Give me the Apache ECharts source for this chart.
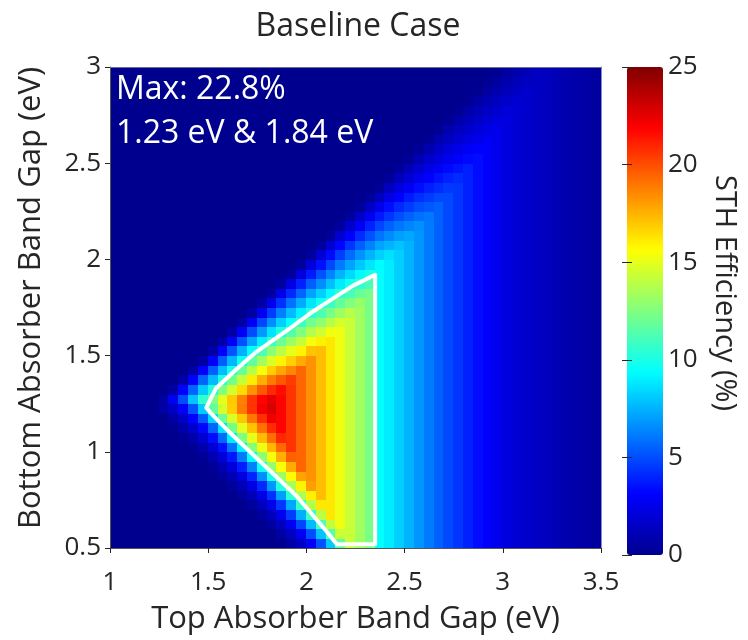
<!DOCTYPE html>
<html>
<head>
<meta charset="utf-8">
<title>Baseline Case</title>
<script src="https://cdn.jsdelivr.net/npm/echarts@6/dist/echarts.min.js"></script>
<style>
  html, body { margin: 0; padding: 0; background: #ffffff; }
  #chart { width: 748px; height: 640px; }
</style>
</head>
<body>
<div id="chart"></div>
<script>
// Top absorber band gap (eV): centre of each grid column
const topGap = [1.025,1.075,1.125,1.175,1.225,1.275,1.325,1.375,1.425,1.475,
  1.525,1.575,1.625,1.675,1.725,1.775,1.825,1.875,1.925,1.975,
  2.025,2.075,2.125,2.175,2.225,2.275,2.325,2.375,2.425,2.475,
  2.525,2.575,2.625,2.675,2.725,2.775,2.825,2.875,2.925,2.975,
  3.025,3.075,3.125,3.175,3.225,3.275,3.325,3.375,3.425,3.475];

// Bottom absorber band gap (eV): centre of each grid row
const bottomGap = [0.525,0.575,0.625,0.675,0.725,0.775,0.825,0.875,0.925,0.975,
  1.025,1.075,1.125,1.175,1.225,1.275,1.325,1.375,1.425,1.475,
  1.525,1.575,1.625,1.675,1.725,1.775,1.825,1.875,1.925,1.975,
  2.025,2.075,2.125,2.175,2.225,2.275,2.325,2.375,2.425,2.475,
  2.525,2.575,2.625,2.675,2.725,2.775,2.825,2.875,2.925,2.975];

// STH efficiency (%), one row per bottom gap (lowest first), one value per top gap
const efficiency = [
[0,0,0,0,0,0,0,0,0,0,0,0,0,0,0,0,0,0,0.6,1.5,2.9,5.1,8.1,11.7,14.3,13.3,12.3,9.4,8.9,8.2,7.5,6.8,6.1,5.5,4.9,4.4,3.9,3.4,3.0,2.6,2.2,1.95,1.7,1.5,1.3,1.1,0.9,0.75,0.6,0.45],
[0,0,0,0,0,0,0,0,0,0,0,0,0,0,0,0,0,0.55,1.4,2.8,5.0,7.9,11.4,14.3,14.3,13.3,12.3,9.4,8.9,8.2,7.5,6.8,6.1,5.5,4.9,4.4,3.9,3.4,3.0,2.6,2.2,1.95,1.7,1.5,1.3,1.1,0.9,0.75,0.6,0.45],
[0,0,0,0,0,0,0,0,0,0,0,0,0,0,0,0,0.5,1.3,2.7,4.8,7.7,11.2,14.1,15.2,14.3,13.3,12.3,9.4,8.9,8.2,7.5,6.8,6.1,5.5,4.9,4.4,3.9,3.4,3.0,2.6,2.2,1.95,1.7,1.5,1.3,1.1,0.9,0.75,0.6,0.45],
[0,0,0,0,0,0,0,0,0,0,0,0,0,0,0,0.45,1.25,2.6,4.6,7.4,10.9,13.9,16.2,15.2,14.3,13.3,12.3,9.4,8.9,8.2,7.5,6.8,6.1,5.5,4.9,4.4,3.9,3.4,3.0,2.6,2.2,1.95,1.7,1.5,1.3,1.1,0.9,0.75,0.6,0.45],
[0,0,0,0,0,0,0,0,0,0,0,0,0,0,0.4,1.2,2.5,4.5,7.2,10.7,13.8,16.2,16.2,15.2,14.3,13.3,12.3,9.4,8.9,8.2,7.5,6.8,6.1,5.5,4.9,4.4,3.9,3.4,3.0,2.6,2.2,1.95,1.7,1.5,1.3,1.1,0.9,0.75,0.6,0.45],
[0,0,0,0,0,0,0,0,0,0,0,0,0,0.35,1.1,2.4,4.3,7.0,10.4,13.6,16.0,17.2,16.2,15.2,14.3,13.3,12.3,9.4,8.9,8.2,7.5,6.8,6.1,5.5,4.9,4.4,3.9,3.4,3.0,2.6,2.2,1.95,1.7,1.5,1.3,1.1,0.9,0.75,0.6,0.45],
[0,0,0,0,0,0,0,0,0,0,0,0,0.3,1.05,2.3,4.1,6.8,10.2,13.4,15.9,18.0,17.2,16.2,15.2,14.3,13.3,12.3,9.4,8.9,8.2,7.5,6.8,6.1,5.5,4.9,4.4,3.9,3.4,3.0,2.6,2.2,1.95,1.7,1.5,1.3,1.1,0.9,0.75,0.6,0.45],
[0,0,0,0,0,0,0,0,0,0,0,0.3,1.0,2.2,4.0,6.6,9.9,13.2,15.7,17.9,18.3,17.2,16.2,15.2,14.3,13.3,12.3,9.4,8.9,8.2,7.5,6.8,6.1,5.5,4.9,4.4,3.9,3.4,3.0,2.6,2.2,1.95,1.7,1.5,1.3,1.1,0.9,0.75,0.6,0.45],
[0,0,0,0,0,0,0,0,0,0,0.25,0.95,2.05,3.8,6.3,9.65,13.0,15.6,17.7,19.4,18.3,17.2,16.2,15.2,14.3,13.3,12.3,9.4,8.9,8.2,7.5,6.8,6.1,5.5,4.9,4.4,3.9,3.4,3.0,2.6,2.2,1.95,1.7,1.5,1.3,1.1,0.9,0.75,0.6,0.45],
[0,0,0,0,0,0,0,0,0,0.2,0.9,2.0,3.65,6.1,9.4,12.8,15.4,17.6,19.5,19.4,18.3,17.2,16.2,15.2,14.3,13.3,12.3,9.4,8.9,8.2,7.5,6.8,6.1,5.5,4.9,4.4,3.9,3.4,3.0,2.6,2.2,1.95,1.7,1.5,1.3,1.1,0.9,0.75,0.6,0.45],
[0,0,0,0,0,0,0,0,0.15,0.8,1.85,3.5,5.9,9.05,12.6,15.2,17.4,19.3,20.6,19.4,18.3,17.2,16.2,15.2,14.3,13.3,12.3,9.4,8.9,8.2,7.5,6.8,6.1,5.5,4.9,4.4,3.9,3.4,3.0,2.6,2.2,1.95,1.7,1.5,1.3,1.1,0.9,0.75,0.6,0.45],
[0,0,0,0,0,0,0,0.1,0.75,1.8,3.4,5.7,8.9,12.4,15.0,17.3,19.2,20.9,20.6,19.4,18.3,17.2,16.2,15.2,14.3,13.3,12.3,9.4,8.9,8.2,7.5,6.8,6.1,5.5,4.9,4.4,3.9,3.4,3.0,2.6,2.2,1.95,1.7,1.5,1.3,1.1,0.9,0.75,0.6,0.45],
[0,0,0,0,0,0,0.05,0.7,1.7,3.25,5.55,8.65,12.2,14.9,17.1,19.1,20.8,21.8,20.6,19.4,18.3,17.2,16.2,15.2,14.3,13.3,12.3,9.4,8.9,8.2,7.5,6.8,6.1,5.5,4.9,4.4,3.9,3.4,3.0,2.6,2.2,1.95,1.7,1.5,1.3,1.1,0.9,0.75,0.6,0.45],
[0,0,0,0,0,0,0.65,1.55,3.1,5.35,8.4,12.0,14.7,17.0,19.0,20.7,22.2,21.8,20.6,19.4,18.3,17.2,16.2,15.2,14.3,13.3,12.3,9.4,8.9,8.2,7.5,6.8,6.1,5.5,4.9,4.4,3.9,3.4,3.0,2.6,2.2,1.95,1.7,1.5,1.3,1.1,0.9,0.75,0.6,0.45],
[0,0,0,0,0,0.6,1.5,3.0,5.15,8.15,11.75,14.55,16.85,18.9,20.6,22.1,22.8,21.8,20.6,19.4,18.3,17.2,16.2,15.2,14.3,13.3,12.3,9.4,8.9,8.2,7.5,6.8,6.1,5.5,4.9,4.4,3.9,3.4,3.0,2.6,2.2,1.95,1.7,1.5,1.3,1.1,0.9,0.75,0.6,0.45],
[0,0,0,0,0,0.6,2.85,5.0,7.9,10.6,12.5,14.9,16.9,18.75,20.6,21.8,22.6,21.8,20.6,19.4,18.3,17.2,16.2,15.2,14.3,13.3,12.3,9.4,8.9,8.2,7.5,6.8,6.1,5.5,4.9,4.4,3.9,3.4,3.0,2.6,2.2,1.95,1.7,1.5,1.3,1.1,0.9,0.75,0.6,0.45],
[0,0,0,0,0,0,0.6,3.1,5.6,8.1,10.1,12.5,14.5,16.5,18.3,19.7,20.9,21.6,20.6,19.4,18.3,17.2,16.2,15.2,14.3,13.3,12.3,9.4,8.9,8.2,7.5,6.8,6.1,5.5,4.9,4.4,3.9,3.4,3.0,2.6,2.2,1.95,1.7,1.5,1.3,1.1,0.9,0.75,0.6,0.45],
[0,0,0,0,0,0,0,0.6,3.1,5.6,7.7,10.1,12.2,14.2,16.1,17.6,18.9,19.7,20.4,19.4,18.3,17.2,16.2,15.2,14.3,13.3,12.3,9.4,8.9,8.2,7.5,6.8,6.1,5.5,4.9,4.4,3.9,3.4,3.0,2.6,2.2,1.95,1.7,1.5,1.3,1.1,0.9,0.75,0.6,0.45],
[0,0,0,0,0,0,0,0,0.6,3.1,5.4,7.7,9.9,11.9,13.9,15.4,16.8,17.8,18.6,19.4,18.3,17.2,16.2,15.2,14.3,13.3,12.3,9.4,8.9,8.2,7.5,6.8,6.1,5.5,4.9,4.4,3.9,3.4,3.0,2.6,2.2,1.95,1.7,1.5,1.3,1.1,0.9,0.75,0.6,0.45],
[0,0,0,0,0,0,0,0,0,0.6,3.0,5.4,7.6,9.7,11.7,13.3,14.8,15.9,16.8,17.7,18.3,17.2,16.2,15.2,14.3,13.3,12.3,9.4,8.9,8.2,7.5,6.8,6.1,5.5,4.9,4.4,3.9,3.4,3.0,2.6,2.2,1.95,1.7,1.5,1.3,1.1,0.9,0.75,0.6,0.45],
[0,0,0,0,0,0,0,0,0,0,0.6,3.0,5.2,7.4,9.4,11.2,12.8,13.9,15.0,15.9,17.1,17.2,16.2,15.2,14.3,13.3,12.3,9.4,8.9,8.2,7.5,6.8,6.1,5.5,4.9,4.4,3.9,3.4,3.0,2.6,2.2,1.95,1.7,1.5,1.3,1.1,0.9,0.75,0.6,0.45],
[0,0,0,0,0,0,0,0,0,0,0,0.6,2.9,5.1,7.2,9.0,10.7,12.0,13.2,14.2,15.4,16.0,16.2,15.2,14.3,13.3,12.3,9.4,8.9,8.2,7.5,6.8,6.1,5.5,4.9,4.4,3.9,3.4,3.0,2.6,2.2,1.95,1.7,1.5,1.3,1.1,0.9,0.75,0.6,0.45],
[0,0,0,0,0,0,0,0,0,0,0,0,0.6,2.8,5.0,6.9,8.7,10.1,11.4,12.5,13.75,14.45,15.3,15.2,14.3,13.3,12.3,9.4,8.9,8.2,7.5,6.8,6.1,5.5,4.9,4.4,3.9,3.4,3.0,2.6,2.2,1.95,1.7,1.5,1.3,1.1,0.9,0.75,0.6,0.45],
[0,0,0,0,0,0,0,0,0,0,0,0,0,0.55,2.8,4.8,6.6,8.2,9.5,10.8,12.1,12.9,13.8,14.6,14.3,13.3,12.3,9.4,8.9,8.2,7.5,6.8,6.1,5.5,4.9,4.4,3.9,3.4,3.0,2.6,2.2,1.95,1.7,1.5,1.3,1.1,0.9,0.75,0.6,0.45],
[0,0,0,0,0,0,0,0,0,0,0,0,0,0,0.55,2.7,4.6,6.25,7.7,9.05,10.4,11.3,12.3,13.2,13.85,13.3,12.3,9.4,8.9,8.2,7.5,6.8,6.1,5.5,4.9,4.4,3.9,3.4,3.0,2.6,2.2,1.95,1.7,1.5,1.3,1.1,0.9,0.75,0.6,0.45],
[0,0,0,0,0,0,0,0,0,0,0,0,0,0,0,0.55,2.55,4.3,5.9,7.3,8.75,9.8,10.8,11.8,12.5,13.1,12.3,9.4,8.9,8.2,7.5,6.8,6.1,5.5,4.9,4.4,3.9,3.4,3.0,2.6,2.2,1.95,1.7,1.5,1.3,1.1,0.9,0.75,0.6,0.45],
[0,0,0,0,0,0,0,0,0,0,0,0,0,0,0,0,0.5,2.4,4.1,5.6,7.1,8.2,9.3,10.4,11.1,11.9,12.3,9.4,8.9,8.2,7.5,6.8,6.1,5.5,4.9,4.4,3.9,3.4,3.0,2.6,2.2,1.95,1.7,1.5,1.3,1.1,0.9,0.75,0.6,0.45],
[0,0,0,0,0,0,0,0,0,0,0,0,0,0,0,0,0,0.5,2.3,3.9,5.4,6.6,7.8,8.9,9.8,10.6,11.15,9.4,8.9,8.2,7.5,6.8,6.1,5.5,4.9,4.4,3.9,3.4,3.0,2.6,2.2,1.95,1.7,1.5,1.3,1.1,0.9,0.75,0.6,0.45],
[0,0,0,0,0,0,0,0,0,0,0,0,0,0,0,0,0,0,0.45,2.15,3.75,5.1,6.35,7.5,8.45,9.3,9.95,9.4,8.9,8.2,7.5,6.8,6.1,5.5,4.9,4.4,3.9,3.4,3.0,2.6,2.2,1.95,1.7,1.5,1.3,1.1,0.9,0.75,0.6,0.45],
[0,0,0,0,0,0,0,0,0,0,0,0,0,0,0,0,0,0,0,0.45,2.1,3.5,4.85,6.1,7.1,8.0,8.75,9.35,8.9,8.2,7.5,6.8,6.1,5.5,4.9,4.4,3.9,3.4,3.0,2.6,2.2,1.95,1.7,1.5,1.3,1.1,0.9,0.75,0.6,0.45],
[0,0,0,0,0,0,0,0,0,0,0,0,0,0,0,0,0,0,0,0,0.4,1.95,3.35,4.65,5.75,6.7,7.5,8.2,8.6,8.2,7.5,6.8,6.1,5.5,4.9,4.4,3.9,3.4,3.0,2.6,2.2,1.95,1.7,1.5,1.3,1.1,0.9,0.75,0.6,0.45],
[0,0,0,0,0,0,0,0,0,0,0,0,0,0,0,0,0,0,0,0,0,0.4,1.85,3.2,4.4,5.45,6.3,7.1,7.55,7.9,7.5,6.8,6.1,5.5,4.9,4.4,3.9,3.4,3.0,2.6,2.2,1.95,1.7,1.5,1.3,1.1,0.9,0.75,0.6,0.45],
[0,0,0,0,0,0,0,0,0,0,0,0,0,0,0,0,0,0,0,0,0,0,0.35,1.8,3.05,4.15,5.1,5.95,6.5,7.0,7.2,6.8,6.1,5.5,4.9,4.4,3.9,3.4,3.0,2.6,2.2,1.95,1.7,1.5,1.3,1.1,0.9,0.75,0.6,0.45],
[0,0,0,0,0,0,0,0,0,0,0,0,0,0,0,0,0,0,0,0,0,0,0,0.35,1.7,2.9,3.9,4.8,5.5,6.0,6.35,6.65,6.1,5.5,4.9,4.4,3.9,3.4,3.0,2.6,2.2,1.95,1.7,1.5,1.3,1.1,0.9,0.75,0.6,0.45],
[0,0,0,0,0,0,0,0,0,0,0,0,0,0,0,0,0,0,0,0,0,0,0,0,0.35,1.6,2.7,3.7,4.4,5.05,5.5,5.85,6.05,5.5,4.9,4.4,3.9,3.4,3.0,2.6,2.2,1.95,1.7,1.5,1.3,1.1,0.9,0.75,0.6,0.45],
[0,0,0,0,0,0,0,0,0,0,0,0,0,0,0,0,0,0,0,0,0,0,0,0,0,0.3,1.5,2.55,3.4,4.1,4.6,5.05,5.3,5.5,4.9,4.4,3.9,3.4,3.0,2.6,2.2,1.95,1.7,1.5,1.3,1.1,0.9,0.75,0.6,0.45],
[0,0,0,0,0,0,0,0,0,0,0,0,0,0,0,0,0,0,0,0,0,0,0,0,0,0,0.3,1.4,2.35,3.1,3.75,4.25,4.6,4.9,4.9,4.4,3.9,3.4,3.0,2.6,2.2,1.95,1.7,1.5,1.3,1.1,0.9,0.75,0.6,0.45],
[0,0,0,0,0,0,0,0,0,0,0,0,0,0,0,0,0,0,0,0,0,0,0,0,0,0,0,0.3,1.3,2.15,2.85,3.4,3.85,4.2,4.5,4.4,3.9,3.4,3.0,2.6,2.2,1.95,1.7,1.5,1.3,1.1,0.9,0.75,0.6,0.45],
[0,0,0,0,0,0,0,0,0,0,0,0,0,0,0,0,0,0,0,0,0,0,0,0,0,0,0,0,0.25,1.2,1.95,2.6,3.1,3.55,3.9,4.15,3.9,3.4,3.0,2.6,2.2,1.95,1.7,1.5,1.3,1.1,0.9,0.75,0.6,0.45],
[0,0,0,0,0,0,0,0,0,0,0,0,0,0,0,0,0,0,0,0,0,0,0,0,0,0,0,0,0,0.25,1.1,1.8,2.4,2.85,3.3,3.6,3.85,3.4,3.0,2.6,2.2,1.95,1.7,1.5,1.3,1.1,0.9,0.75,0.6,0.45],
[0,0,0,0,0,0,0,0,0,0,0,0,0,0,0,0,0,0,0,0,0,0,0,0,0,0,0,0,0,0,0.2,1.0,1.65,2.2,2.65,3.0,3.3,3.4,3.0,2.6,2.2,1.95,1.7,1.5,1.3,1.1,0.9,0.75,0.6,0.45],
[0,0,0,0,0,0,0,0,0,0,0,0,0,0,0,0,0,0,0,0,0,0,0,0,0,0,0,0,0,0,0,0.2,0.9,1.5,2.05,2.45,2.8,3.1,3.0,2.6,2.2,1.95,1.7,1.5,1.3,1.1,0.9,0.75,0.6,0.45],
[0,0,0,0,0,0,0,0,0,0,0,0,0,0,0,0,0,0,0,0,0,0,0,0,0,0,0,0,0,0,0,0,0.2,0.85,1.4,1.85,2.25,2.6,2.85,2.6,2.2,1.95,1.7,1.5,1.3,1.1,0.9,0.75,0.6,0.45],
[0,0,0,0,0,0,0,0,0,0,0,0,0,0,0,0,0,0,0,0,0,0,0,0,0,0,0,0,0,0,0,0,0,0.15,0.8,1.3,1.75,2.1,2.4,2.6,2.2,1.95,1.7,1.5,1.3,1.1,0.9,0.75,0.6,0.45],
[0,0,0,0,0,0,0,0,0,0,0,0,0,0,0,0,0,0,0,0,0,0,0,0,0,0,0,0,0,0,0,0,0,0,0.15,0.7,1.2,1.6,1.95,2.2,2.2,1.95,1.7,1.5,1.3,1.1,0.9,0.75,0.6,0.45],
[0,0,0,0,0,0,0,0,0,0,0,0,0,0,0,0,0,0,0,0,0,0,0,0,0,0,0,0,0,0,0,0,0,0,0,0.15,0.65,1.1,1.5,1.75,2.0,1.95,1.7,1.5,1.3,1.1,0.9,0.75,0.6,0.45],
[0,0,0,0,0,0,0,0,0,0,0,0,0,0,0,0,0,0,0,0,0,0,0,0,0,0,0,0,0,0,0,0,0,0,0,0,0.15,0.6,1.0,1.35,1.65,1.85,1.7,1.5,1.3,1.1,0.9,0.75,0.6,0.45],
[0,0,0,0,0,0,0,0,0,0,0,0,0,0,0,0,0,0,0,0,0,0,0,0,0,0,0,0,0,0,0,0,0,0,0,0,0,0.1,0.55,0.95,1.25,1.5,1.7,1.5,1.3,1.1,0.9,0.75,0.6,0.45],
[0,0,0,0,0,0,0,0,0,0,0,0,0,0,0,0,0,0,0,0,0,0,0,0,0,0,0,0,0,0,0,0,0,0,0,0,0,0,0.1,0.5,0.85,1.15,1.4,1.5,1.3,1.1,0.9,0.75,0.6,0.45],
[0,0,0,0,0,0,0,0,0,0,0,0,0,0,0,0,0,0,0,0,0,0,0,0,0,0,0,0,0,0,0,0,0,0,0,0,0,0,0,0.1,0.5,0.8,1.1,1.3,1.3,1.1,0.9,0.75,0.6,0.45]
];

// 10 % iso-efficiency outline, [top gap, bottom gap] in eV
const contour10 = [[1.49,1.23],[1.54,1.33],[1.645,1.43],[1.74,1.515],[1.9,1.63],[2.02,1.72],
  [2.14,1.80],[2.24,1.865],[2.30,1.895],[2.35,1.92],[2.35,0.52],[2.155,0.52],[2.10,0.59],
  [1.95,0.77],[1.78,0.935],[1.61,1.10],[1.51,1.205],[1.49,1.23]];

// Band gaps of the best cell, as printed in the corner note
const bestGaps = ['1.23 eV', '1.84 eV'];

// MATLAB-style jet colour ramp
const jet = ['#00008f','#0000ff','#0080ff','#00ffff','#80ff80','#ffff00','#ff8000','#ff0000','#800000'];

const FONT = '"Open Sans", "Noto Sans", sans-serif';
const INK = '#262626';

const cells = [];
let peak = 0;
efficiency.forEach(function (row, j) {
  if (row.length !== topGap.length) {
    throw new Error('row ' + j + ' has ' + row.length + ' values');
  }
  row.forEach(function (v, i) {
    cells.push([i, j, v]);
    if (v > peak) peak = v;
  });
});
if (efficiency.length !== bottomGap.length) {
  throw new Error('expected ' + bottomGap.length + ' rows, got ' + efficiency.length);
}

const plot = { left: 110, top: 67, width: 491, height: 488 };
const bar = { left: 627, top: 67, width: 36, height: 488 };

// One filled cell per grid point, snapped to whole pixels so neighbours meet without seams
function renderCell(params, api) {
  const c = api.coord([api.value(0), api.value(1)]);
  const s = api.size([1, 1]);
  const x0 = Math.floor(c[0] - s[0] / 2), x1 = Math.ceil(c[0] + s[0] / 2);
  const y0 = Math.floor(c[1] - s[1] / 2), y1 = Math.ceil(c[1] + s[1] / 2);
  return {
    type: 'rect',
    shape: { x: x0, y: y0, width: x1 - x0, height: y1 - y0 },
    style: { fill: api.visual('color') }
  };
}

const valueAxisBase = {
  axisLine: { show: true, onZero: false, lineStyle: { color: '#555555', width: 1 } },
  axisTick: { show: true, inside: false, length: 5, lineStyle: { color: INK, width: 1 } },
  axisLabel: { fontSize: 26, color: INK, fontFamily: FONT },
  splitLine: { show: false },
  z: 10
};

const chart = echarts.init(document.getElementById('chart'), null, { renderer: 'canvas' });
chart.setOption({
  animation: false,
  backgroundColor: '#ffffff',
  grid: [
    { left: plot.left, top: plot.top, width: plot.width, height: plot.height, containLabel: false },
    { left: bar.left, top: bar.top, width: bar.width, height: bar.height, containLabel: false }
  ],
  xAxis: [
    { type: 'category', gridIndex: 0, position: 'bottom', data: topGap, show: false, boundaryGap: true },
    Object.assign({}, valueAxisBase, {
      type: 'value', gridIndex: 0, position: 'bottom', min: 1, max: 3.5, interval: 0.5,
      axisLabel: Object.assign({}, valueAxisBase.axisLabel, { margin: 22 }),
      name: 'Top Absorber Band Gap (eV)', nameLocation: 'middle', nameGap: 56,
      nameTextStyle: { fontSize: 31, color: INK, fontFamily: FONT }
    }),
    { type: 'value', gridIndex: 0, position: 'top', min: 1, max: 3.5, z: 10,
      axisLine: { show: true, onZero: false, lineStyle: { color: '#6d6d9a', width: 1 } },
      axisTick: { show: false }, axisLabel: { show: false }, splitLine: { show: false } },
    { type: 'value', gridIndex: 1, min: 0, max: 1, show: false }
  ],
  yAxis: [
    { type: 'category', gridIndex: 0, position: 'left', data: bottomGap, show: false, boundaryGap: true },
    Object.assign({}, valueAxisBase, {
      type: 'value', gridIndex: 0, position: 'left', min: 0.5, max: 3, interval: 0.5,
      axisLabel: Object.assign({}, valueAxisBase.axisLabel, { margin: 9 })
    }),
    { type: 'value', gridIndex: 0, position: 'right', min: 0.5, max: 3, z: 10,
      axisLine: { show: true, onZero: false, lineStyle: { color: '#8a8ac8', width: 1 } },
      axisTick: { show: false }, axisLabel: { show: false }, splitLine: { show: false } },
    { type: 'value', gridIndex: 1, position: 'right', min: 0, max: 25, interval: 5, z: 10,
      axisLine: { show: false },
      axisTick: { show: true, inside: true, length: 5, lineStyle: { color: INK } },
      axisLabel: { fontSize: 26, color: INK, fontFamily: FONT, margin: 5 },
      splitLine: { show: false } },
    { type: 'value', gridIndex: 1, position: 'left', min: 0, max: 25, interval: 5, z: 10,
      axisLine: { show: false },
      axisTick: { show: true, inside: true, length: 5, lineStyle: { color: INK } },
      axisLabel: { show: false }, splitLine: { show: false } }
  ],
  visualMap: {
    type: 'continuous', min: 0, max: 25, seriesIndex: 0, dimension: 2, calculable: false,
    orient: 'vertical', left: bar.left, top: bar.top, padding: 0,
    itemWidth: bar.width, itemHeight: bar.height, text: null, hoverLink: false,
    inRange: { color: jet }
  },
  series: [
    {
      type: 'custom', xAxisIndex: 0, yAxisIndex: 0, data: cells,
      renderItem: renderCell, clip: true, silent: true, progressive: 0,
      encode: { x: 0, y: 1 }
    },
    {
      type: 'line', xAxisIndex: 1, yAxisIndex: 1, data: contour10,
      symbol: 'none', showSymbol: false, silent: true, z: 6,
      lineStyle: { color: '#ffffff', width: 4, join: 'round', cap: 'round' }
    }
  ],
  graphic: [
    { type: 'text', x: 358, y: 27, silent: true,
      style: { text: 'Baseline Case', font: '32px ' + FONT, fill: INK, align: 'center', verticalAlign: 'middle' } },
    { type: 'text', x: 31, y: 298, rotation: Math.PI / 2, silent: true,
      style: { text: 'Bottom Absorber Band Gap (eV)', font: '31px ' + FONT, fill: INK, align: 'center', verticalAlign: 'middle' } },
    { type: 'text', x: 724, y: 293, rotation: -Math.PI / 2, silent: true,
      style: { text: 'STH Efficiency (%)', font: '29px ' + FONT, fill: INK, align: 'center', verticalAlign: 'middle' } },
    { type: 'text', x: 116, y: 90, z: 20, silent: true,
      style: { text: 'Max: ' + peak.toFixed(1) + '%', font: '32px ' + FONT, fill: '#ffffff', align: 'left', verticalAlign: 'middle' } },
    { type: 'text', x: 116, y: 134, z: 20, silent: true,
      style: { text: bestGaps.join(' & '), font: '32px ' + FONT, fill: '#ffffff', align: 'left', verticalAlign: 'middle' } }
  ]
});
</script>
</body>
</html>
